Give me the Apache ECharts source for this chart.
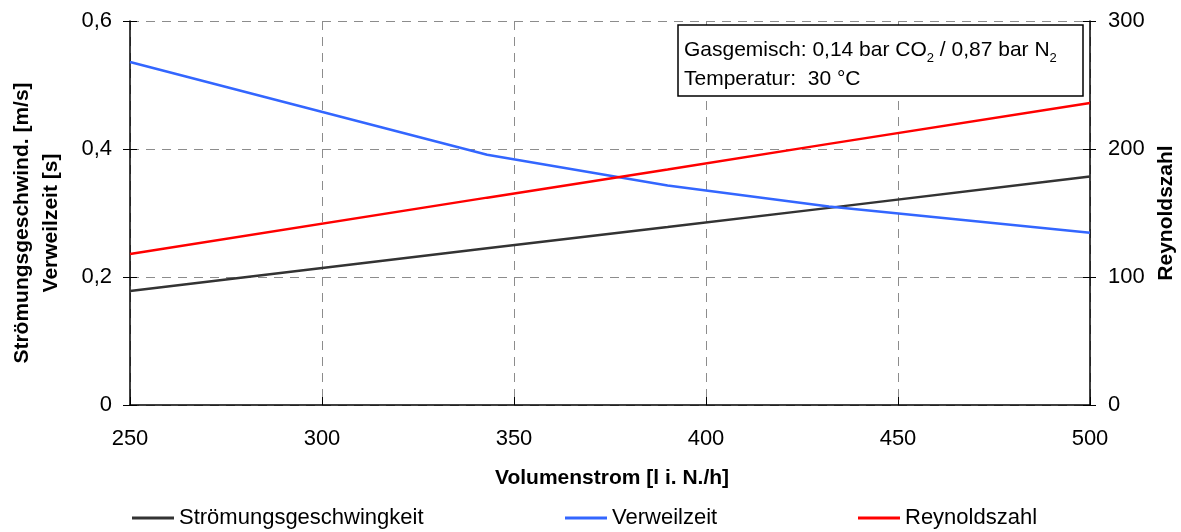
<!DOCTYPE html>
<html>
<head>
<meta charset="utf-8">
<script src="https://cdn.jsdelivr.net/npm/echarts@6/dist/echarts.min.js"></script>
<style>
  html, body { margin: 0; padding: 0; background: #fff; }
  #chart { width: 1181px; height: 532px; }
</style>
</head>
<body>
<div id="chart"></div>
<script>
// Volumenstrom in l i. N./h
const flow = [250, 343, 390, 432, 500];
// Strömungsgeschwindigkeit in m/s
const velocity = [0.178, 0.245, 0.278, 0.308, 0.357];
// Verweilzeit in s
const residence = [0.536, 0.391, 0.343, 0.310, 0.269];
// Reynoldszahl
const reynolds = [118, 162, 184, 204, 236];

const xTicks = { min: 250, max: 500, step: 50 };
const leftTicks = { min: 0, max: 0.6, step: 0.2 };
const rightTicks = { min: 0, max: 300, step: 100 };

const seriesNames = ['Strömungsgeschwingkeit', 'Verweilzeit', 'Reynoldszahl'];
const seriesColors = ['#333333', '#3366ff', '#ff0000'];

const FONT = '"Liberation Sans", Arial, sans-serif';
const comma = v => String(Math.round(v * 10) / 10).replace('.', ',');
const pairs = (xs, ys) => xs.map((x, i) => [x, ys[i]]);

const gridLine = { show: true, lineStyle: { color: '#8c8c8c', type: [9, 7], width: 1 } };
const axisLine = { show: true, onZero: false, lineStyle: { color: '#000', width: 1.5 } };
const tickStyle = { color: '#000', width: 1 };

// companion axes that only add the inner half of the crossing ticks
const innerTicks = (pos, t) => ({
  type: 'value', position: pos,
  min: t.min, max: t.max, interval: t.step,
  axisLine: { show: false },
  axisTick: { show: true, inside: true, length: 7, lineStyle: tickStyle },
  axisLabel: { show: false },
  splitLine: { show: false }
});

const chart = echarts.init(document.getElementById('chart'), null, { renderer: 'canvas' });

const legendLeft = [132, 565, 858];

chart.setOption({
  animation: false,
  backgroundColor: '#fff',
  textStyle: { fontFamily: FONT },
  grid: { left: 130, right: 91, top: 21, bottom: 127, containLabel: false },
  legend: seriesNames.map((n, i) => ({
    data: [n],
    left: legendLeft[i],
    top: 507,
    padding: 0,
    icon: 'rect',
    itemWidth: 42,
    itemHeight: 3,
    textStyle: { fontFamily: FONT, fontSize: 22, color: '#000', lineHeight: 22 }
  })),
  xAxis: {
    type: 'value',
    min: xTicks.min, max: xTicks.max, interval: xTicks.step,
    axisLine: axisLine,
    axisTick: { show: true, inside: true, length: 8, lineStyle: tickStyle },
    axisLabel: { color: '#000', fontSize: 22, fontFamily: FONT, margin: 23 },
    splitLine: gridLine
  },
  yAxis: [
    {
      type: 'value',
      min: leftTicks.min, max: leftTicks.max, interval: leftTicks.step,
      axisLine: axisLine,
      axisTick: { show: true, length: 7, lineStyle: tickStyle },
      axisLabel: { color: '#000', fontSize: 22, fontFamily: FONT, margin: 18, formatter: comma },
      splitLine: gridLine
    },
    {
      type: 'value',
      position: 'right',
      min: rightTicks.min, max: rightTicks.max, interval: rightTicks.step,
      axisLine: axisLine,
      axisTick: { show: true, length: 6, lineStyle: tickStyle },
      axisLabel: { color: '#000', fontSize: 22, fontFamily: FONT, margin: 18 },
      splitLine: { show: false }
    },
    innerTicks('left', leftTicks),
    innerTicks('right', rightTicks)
  ],
  series: [
    { name: seriesNames[0], type: 'line', yAxisIndex: 0, data: pairs(flow, velocity) },
    { name: seriesNames[1], type: 'line', yAxisIndex: 0, data: pairs(flow, residence) },
    { name: seriesNames[2], type: 'line', yAxisIndex: 1, data: pairs(flow, reynolds) }
  ].map((s, i) => Object.assign(s, {
    showSymbol: false,
    symbol: 'none',
    color: seriesColors[i],
    lineStyle: { color: seriesColors[i], width: 2.5 },
    z: 3 + i
  })),
  graphic: [
    // axis titles
    {
      type: 'text', x: 37, y: 223, rotation: Math.PI / 2,
      style: {
        text: 'Strömungsgeschwind. [m/s]\nVerweilzeit [s]',
        font: 'bold 21px ' + FONT, fill: '#000',
        align: 'center', verticalAlign: 'middle', lineHeight: 29
      }
    },
    {
      type: 'text', x: 1166, y: 213, rotation: Math.PI / 2,
      style: {
        text: 'Reynoldszahl',
        font: 'bold 21px ' + FONT, fill: '#000',
        align: 'center', verticalAlign: 'middle'
      }
    },
    {
      type: 'text', x: 612, y: 478,
      style: {
        text: 'Volumenstrom [l i. N./h]',
        font: 'bold 21px ' + FONT, fill: '#000',
        align: 'center', verticalAlign: 'middle'
      }
    },
    // info box
    {
      type: 'rect', z: 10,
      shape: { x: 678, y: 25, width: 405, height: 71 },
      style: { fill: '#fff', stroke: '#000', lineWidth: 1.5 }
    },
    {
      type: 'text', z: 11, x: 684, y: 36,
      style: {
        text: 'Gasgemisch: 0,14 bar CO{sub|2} / 0,87 bar N{sub|2}\nTemperatur:  30 °C',
        fontFamily: FONT, fontSize: 21, fill: '#000', lineHeight: 29,
        rich: {
          sub: { fontFamily: FONT, fontSize: 13, lineHeight: 19, verticalAlign: 'bottom', fill: '#000' }
        }
      }
    }
  ]
});
</script>
</body>
</html>
